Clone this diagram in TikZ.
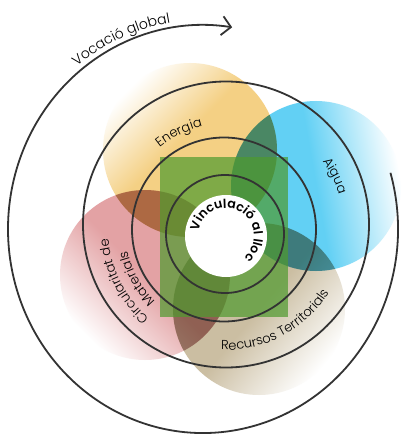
\documentclass[tikz,border=0pt]{standalone}
\usepackage{fontspec}
\setmainfont{Poppins}[UprightFont=* Light, BoldFont=* SemiBold]
\usetikzlibrary{decorations.text,arrows.meta}
\definecolor{ring}{HTML}{333333}
\definecolor{energ}{HTML}{F4D084}
\definecolor{aigua}{HTML}{62D0F4}
\definecolor{mater}{HTML}{E3A2A4}
\definecolor{recur}{HTML}{CBBEA2}
\definecolor{verd}{HTML}{4E9A2E}
\pgfdeclarehorizontalshading{shEnerg}{100bp}{color(0bp)=(white); color(25bp)=(white); color(46bp)=(energ); color(100bp)=(energ)}
\pgfdeclarehorizontalshading{shAigua}{100bp}{color(0bp)=(white); color(25bp)=(white); color(50bp)=(aigua); color(100bp)=(aigua)}
\pgfdeclarehorizontalshading{shMater}{100bp}{color(0bp)=(white); color(25bp)=(white); color(50bp)=(mater); color(100bp)=(mater)}
\pgfdeclarehorizontalshading{shRecur}{100bp}{color(0bp)=(white); color(25bp)=(white); color(50bp)=(recur); color(100bp)=(recur)}
\tikzset{
  ringst/.style={draw=ring, line width=1.8pt},
  darken/.style={fill=black, fill opacity=0.2},
  arctext/.style={postaction={decorate}, decoration={text along path, text align=center, text={#1}}}
}
\begin{document}
\begin{tikzpicture}[x=1pt,y=1pt]
\useasboundingbox (0,0) rectangle (404,-435);
\fill[white] (0,0) rectangle (404,-435);
% centres
\coordinate (C) at (226,-229);
\coordinate (CW) at (226,-236);
\coordinate (C2) at (225,-234);
\coordinate (C3) at (224,-229.5);
\coordinate (C4) at (226,-224.5);
\coordinate (CO) at (203,-229);
\coordinate (CE) at (190,-150);
\coordinate (CA) at (316,-186);
\coordinate (CM) at (145,-275);
\coordinate (CR) at (259,-309);
% coloured discs
\begin{scope}[blend mode=multiply]
\shade[shading=shEnerg, shading angle=-45] (CE) circle[radius=87];
\shade[shading=shAigua, shading angle=190] (CA) circle[radius=85];
\shade[shading=shMater, shading angle=45] (CM) circle[radius=85];
\shade[shading=shRecur, shading angle=140] (CR) circle[radius=86];
\end{scope}
% darker overlaps
\begin{scope}
\clip (CE) circle[radius=87];
\fill[darken] (CA) circle[radius=85];
\fill[darken] (CM) circle[radius=85];
\end{scope}
\begin{scope}
\clip (CR) circle[radius=86];
\fill[darken] (CA) circle[radius=85];
\fill[darken] (CM) circle[radius=85];
\end{scope}
\fill[verd, fill opacity=0.7] (160,-157) rectangle (288,-317);
% rings
\draw[ringst] (C4) circle[radius=143];
\draw[ringst] (C3) circle[radius=92];
\draw[ringst] (C2) circle[radius=59];
\fill[white] (CW) circle[radius=41];
\draw[ringst, -{Straight Barb[length=9pt,width=19pt]}] ([shift={(16:195 and 204)}]CO) arc[start angle=16, end angle=-278.6, x radius=195, y radius=204];
% labels
\path[arctext={|\fontsize{14}{16}\selectfont|Vocació global}] ([shift={(148:200 and 209)}]CO) arc[start angle=148, end angle=80, x radius=200, y radius=209];
\path[arctext={|\fontsize{13}{15}\selectfont|Energia}] ([shift={(160:105)}]C) arc[start angle=160, end angle=72, radius=105];
\path[arctext={|\fontsize{13}{15}\selectfont|Aigua}] ([shift={(70:118)}]C) arc[start angle=70, end angle=-18, radius=118];
\path[arctext={|\fontsize{13}{15}\selectfont|Recursos Territorials}] ([shift={(-125:121)}]C) arc[start angle=-125, end angle=1, radius=121];
\path[arctext={|\fontsize{13}{15}\selectfont|Circularitat de}] ([shift={(255:118)}]C) arc[start angle=255, end angle=159, radius=118];
\path[arctext={|\fontsize{13}{15}\selectfont|Materials}] ([shift={(255:101)}]C) arc[start angle=255, end angle=163, radius=101];
\path[arctext={|\fontsize{12.5}{14}\selectfont\bfseries|Vinculació al lloc}] ([shift={(200:28)}]CW) arc[start angle=200, end angle=-80, radius=28];
\end{tikzpicture}
\end{document}
